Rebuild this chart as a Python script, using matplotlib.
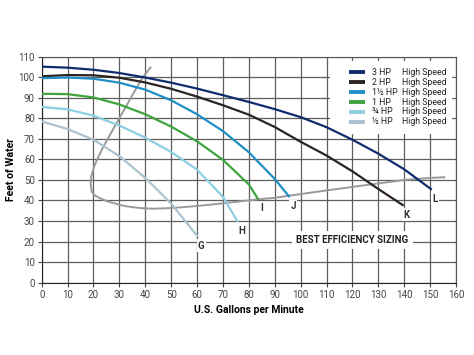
import matplotlib
matplotlib.use("Agg")
import matplotlib.pyplot as plt
from matplotlib import font_manager
from matplotlib.patches import Rectangle

# pick a narrow-ish font if we have one
names = {f.name for f in font_manager.fontManager.ttflist}
base_font = 'Liberation Sans Narrow' if 'Liberation Sans Narrow' in names else 'Roboto'
plt.rcParams['font.family'] = [base_font, 'DejaVu Sans']

# pump curves, gpm vs feet of water
hp3_x = [0, 10, 20, 30, 40, 50, 60, 70, 80, 90, 100, 110, 120, 130, 140, 150.3]
hp3_y = [105.2, 104.7, 103.7, 102.1, 99.9, 97.4, 94.5, 91.3, 88, 84.5, 80.6, 75.7, 69.6, 62.8, 55.2, 45.6]

hp2_x = [0, 10, 20, 30, 40, 50, 60, 70, 80, 90, 100, 110, 120, 130, 139.4]
hp2_y = [100.5, 101.1, 101, 99.8, 97.5, 94.4, 90.6, 86.4, 81.8, 75.8, 68.6, 61.9, 54.2, 45.6, 37.8]

hp15_x = [0, 10, 20, 30, 40, 50, 60, 70, 80, 90, 95.5]
hp15_y = [99.6, 99.9, 99.3, 97.4, 94, 88.8, 82, 73.8, 63.5, 50.5, 42]

hp1_x = [0, 10, 20, 30, 40, 50, 60, 70, 80, 83.4]
hp1_y = [92, 91.8, 90.2, 86.8, 82, 76, 68.8, 59.8, 47.8, 41]

hp34_x = [0, 10, 20, 30, 40, 50, 60, 70, 75.5]
hp34_y = [85.6, 84.4, 81.3, 76.5, 70.6, 63.6, 55, 41.8, 30]

hp12_x = [0, 10, 20, 30, 40, 50, 60]
hp12_y = [78.5, 74.8, 69.6, 61.6, 51, 38.5, 22.8]

curve_labels = ['3 HP', '2 HP', '1\u00bd HP', '1 HP', '\u00be HP', '\u00bd HP']
speed_label = 'High Speed'
curve_colors = ['#0f2d6e', '#2b2420', '#1f8fc6', '#3ea33c', '#8dcfe2', '#adc2cf']
end_letters = ['L', 'K', 'J', 'I', 'H', 'G']

# best efficiency sizing line (goes back on itself, so x and y are listed in order)
eff_x = [42, 38.5, 35.4, 32.5, 29.6, 26.6, 23.8, 21.8, 20.2, 19.1, 18.9, 19.3, 20.5, 22.5,
         25.5, 28.9, 32, 35.4, 39, 43, 50, 60, 70, 83, 90, 96, 110, 120, 130, 140, 150, 155.5]
eff_y = [104.8, 99, 92.2, 85.7, 79.2, 72.5, 66.2, 61, 56.4, 51.5, 48.4, 44.3, 42.5, 41.1,
         39.5, 38.3, 37.3, 36.7, 36.2, 36, 36.3, 37.3, 38.6, 40.5, 41.3, 42.4, 44.9, 46.6, 48.3, 50, 51, 51.3]

x_ticks = list(range(0, 161, 10))
y_ticks = list(range(0, 111, 10))

fig = plt.figure(figsize=(4.74, 3.55), dpi=100)
ax = fig.add_axes([0.088, 0.204, 0.874, 0.636])

ax.set_xlim(0, 160)
ax.set_ylim(0, 110)
ax.set_xticks(x_ticks)
ax.set_yticks(y_ticks)
ax.tick_params(labelsize=7, length=3, width=0.8, colors='#444444', pad=2)
ax.grid(True, color='#5f5f5f', linewidth=0.9)
ax.set_axisbelow(True)
for side in ['top', 'right']:
    ax.spines[side].set_color('#555555')
for side in ['left', 'bottom']:
    ax.spines[side].set_color('#222222')

# white panel behind the legend hides the grid there
ax.add_patch(Rectangle((0.696, 0.657), 0.294, 0.324, transform=ax.transAxes,
                       facecolor='white', edgecolor='none', zorder=1.5))

ax.plot(eff_x, eff_y, color='#9a9a9a', linewidth=1.4, zorder=2)

series = [(hp3_x, hp3_y), (hp2_x, hp2_y), (hp15_x, hp15_y),
          (hp1_x, hp1_y), (hp34_x, hp34_y), (hp12_x, hp12_y)]
for (xs, ys), col in zip(series, curve_colors):
    ax.plot(xs, ys, color=col, linewidth=1.6, zorder=3, solid_joinstyle='round')

# end point letters, just below and right of each curve end
white_box = dict(facecolor='white', edgecolor='none', pad=1.0)
for (xs, ys), letter in zip(series, end_letters):
    ax.annotate(letter, (xs[-1], ys[-1]), xytext=(3, -7), textcoords='offset points',
                ha='center', va='center', fontsize=7, fontweight='bold',
                color='#333333', bbox=white_box, zorder=4)

ax.text(120, 20.8, 'BEST EFFICIENCY SIZING', ha='center', va='center', fontsize=7,
        fontweight='bold', color='#222222', bbox=dict(facecolor='white', edgecolor='none', pad=3),
        zorder=4)

ax.set_xlabel('U.S. Gallons per Minute', fontsize=7.5, fontweight='bold', labelpad=4)
ax.set_ylabel('Feet of Water', fontsize=7.5, fontweight='bold', labelpad=2)

# legend drawn by hand: line swatch, HP name, speed
row_top = 0.931
row_step = 0.0438
for i, (lab, col) in enumerate(zip(curve_labels, curve_colors)):
    yy = row_top - i * row_step
    ax.plot([0.742, 0.780], [yy, yy], transform=ax.transAxes, color=col,
            linewidth=2.8, solid_capstyle='butt', zorder=6)
    ax.text(0.798, yy, lab, transform=ax.transAxes, ha='left', va='center',
            fontsize=6.3, color='#222222', zorder=6)
    ax.text(0.869, yy, speed_label, transform=ax.transAxes, ha='left', va='center',
            fontsize=6.3, color='#222222', zorder=6)

fig.savefig('out.png', dpi=100)
